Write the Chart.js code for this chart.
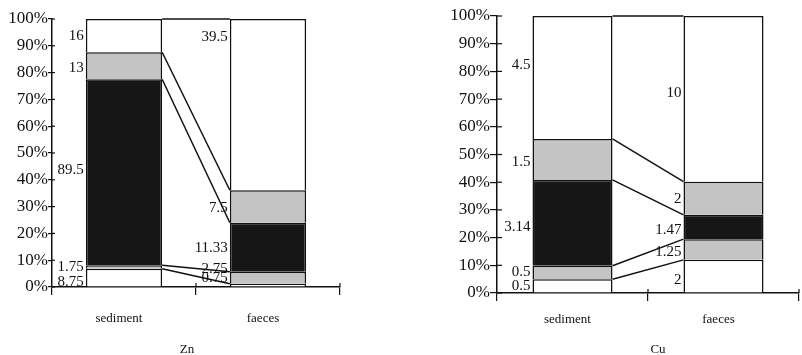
<!DOCTYPE html>
<html>
<head>
<meta charset="utf-8">
<script src="https://cdn.jsdelivr.net/npm/chart.js@4/dist/chart.umd.min.js"></script>
<style>
  html, body { margin: 0; padding: 0; background: #fff; }
  #wrap { display: flex; width: 802px; height: 355px; overflow: hidden; }
  canvas { display: block; }
</style>
</head>
<body>
<div id="wrap">
  <canvas id="zn" width="400" height="355"></canvas>
  <canvas id="cu" width="402" height="355"></canvas>
</div>
<script>
// ---- data (raw fraction values, bottom to top) ----
const categories = ['sediment', 'faeces'];
const znSediment = [8.75, 1.75, 89.5, 13, 16];
const znFaeces   = [0.75, 2.75, 11.33, 7.5, 39.5];
const cuSediment = [0.5, 0.5, 3.14, 1.5, 4.5];
const cuFaeces   = [2, 1.25, 1.47, 2, 10];
const yTickValues = [0, 10, 20, 30, 40, 50, 60, 70, 80, 90, 100];
const titles = ['Zn', 'Cu'];

// ---- styles ----
const fractionColors = ['#ffffff', '#c4c4c4', '#161616', '#c4c4c4', '#ffffff'];
const ink = '#111';
const serif = '"Liberation Serif", "DejaVu Serif", serif';

// label nudges (px) relative to segment centre: [sediment[], faeces[]]
const znNudge = [[4, 0, -2, 2, 0], [-7, -9, 1, 2, -68]];
const cuNudge = [[0, 0, 4, 3, -12], [4, 3, 3, 1, -6]];

function toPct(arr) {
  const total = arr.reduce((a, b) => a + b, 0);
  return arr.map(v => v / total * 100);
}

const overlayPlugin = {
  id: 'overlay',
  afterDatasetsDraw(chart, args, opts) {
    const ctx = chart.ctx;
    const n = chart.data.datasets.length;
    ctx.save();
    // series lines between the two columns
    ctx.strokeStyle = ink;
    ctx.lineWidth = 1.5;
    for (let i = 0; i < n; i++) {
      const meta = chart.getDatasetMeta(i);
      const a = meta.data[0], b = meta.data[1];
      ctx.beginPath();
      ctx.moveTo(a.x + a.width / 2, a.y);
      ctx.lineTo(b.x - b.width / 2, b.y);
      ctx.stroke();
    }
    // inner tick marks (ticks cross the axes)
    const ys = chart.scales.y, xs = chart.scales.x;
    ctx.lineWidth = 1.2;
    yTickValues.forEach(v => {
      const y = ys.getPixelForValue(v);
      ctx.beginPath();
      ctx.moveTo(ys.right, y);
      ctx.lineTo(ys.right + opts.innerTick, y);
      ctx.stroke();
    });
    for (let k = 1; k <= categories.length; k++) {
      const x = xs.left + (xs.right - xs.left) * k / categories.length;
      ctx.beginPath();
      ctx.moveTo(x, xs.top);
      ctx.lineTo(x, xs.top - 4);
      ctx.stroke();
    }
    // value labels left of each column segment
    ctx.fillStyle = ink;
    ctx.font = '15px ' + serif;
    ctx.textAlign = 'right';
    ctx.textBaseline = 'middle';
    for (let i = 0; i < n; i++) {
      const meta = chart.getDatasetMeta(i);
      const raw = chart.data.datasets[i].raw;
      meta.data.forEach((el, j) => {
        const y = (el.y + el.base) / 2 + opts.nudge[j][i];
        const x = el.x - el.width / 2 - 2;
        ctx.fillText(String(raw[j]), x, y);
      });
    }
    // element title under the chart
    ctx.font = '13px ' + serif;
    ctx.textAlign = 'center';
    ctx.fillText(opts.title, opts.titleX, opts.titleY);
    ctx.restore();
  }
};

function makeChart(id, sed, fae, geo) {
  const sp = toPct(sed), fp = toPct(fae);
  const datasets = sed.map((v, i) => ({
    label: 'fraction ' + (i + 1),
    data: [sp[i], fp[i]],
    raw: [sed[i], fae[i]],
    backgroundColor: fractionColors[i],
    borderColor: ink,
    borderWidth: { top: 1.5, left: 1.6, right: 1.6, bottom: 0 },
    borderSkipped: false,
    barPercentage: 0.53,
    categoryPercentage: 1.0
  }));
  return new Chart(document.getElementById(id), {
    type: 'bar',
    data: { labels: categories, datasets },
    plugins: [overlayPlugin],
    options: {
      responsive: false,
      animation: false,
      devicePixelRatio: 1,
      layout: { padding: { top: geo.top, right: geo.right, left: 0, bottom: 0 } },
      plugins: {
        legend: { display: false },
        tooltip: { enabled: false },
        overlay: { nudge: geo.nudge, title: geo.title, titleX: geo.titleX, titleY: 350, innerTick: geo.innerTick }
      },
      scales: {
        x: {
          stacked: true,
          offset: true,
          grid: { offset: true, drawOnChartArea: false, tickLength: 8, color: ink, lineWidth: 1.2 },
          border: { display: true, color: ink, width: 1.5 },
          ticks: { color: ink, font: { family: serif, size: 13 }, padding: geo.xPad, labelOffset: -5 },
          afterFit(s) { s.height = geo.xHeight; }
        },
        y: {
          stacked: true,
          min: 0, max: 100,
          grid: { drawOnChartArea: false, tickLength: geo.tickLen, color: ink, lineWidth: 1.2 },
          border: { display: true, color: ink, width: 1.5 },
          ticks: {
            stepSize: 10, padding: 0, color: ink,
            font: { family: serif, size: 17 },
            callback: v => v + '%'
          },
          afterFit(s) { s.width = geo.yWidth; }
        }
      }
    }
  });
}

makeChart('zn', znSediment, znFaeces, {
  top: 19, right: 60, yWidth: 52, xHeight: 68, xPad: 16, tickLen: 4, innerTick: 3,
  nudge: znNudge, title: titles[0], titleX: 187
});
makeChart('cu', cuSediment, cuFaeces, {
  top: 16, right: 3, yWidth: 97, xHeight: 62, xPad: 11, tickLen: 7, innerTick: 5,
  nudge: cuNudge, title: titles[1], titleX: 258
});
</script>
</body>
</html>
